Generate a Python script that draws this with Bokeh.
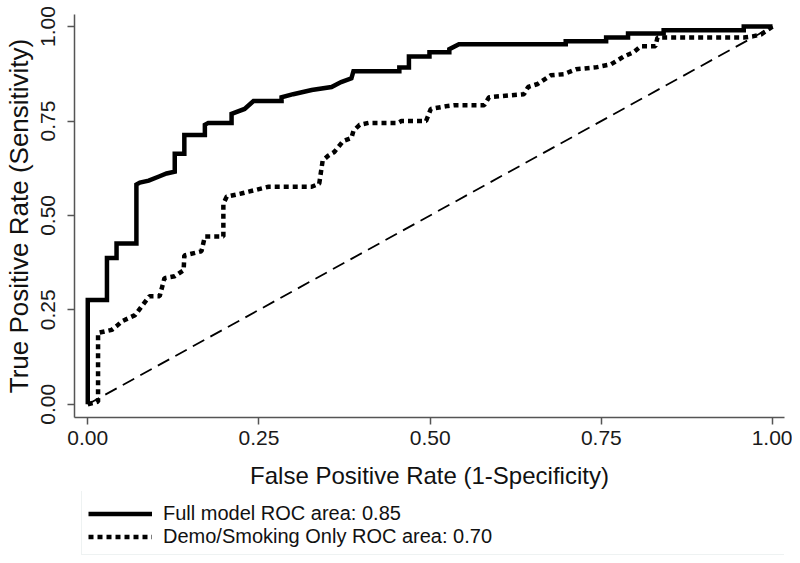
from bokeh.plotting import figure
from bokeh.layouts import column
from bokeh.models import Range1d, FixedTicker, Legend, LegendItem, PrintfTickFormatter
from bokeh.embed import file_html
from bokeh.resources import INLINE

# ---- data ----
full_fpr = [0.0, 0.0, 0.028, 0.028, 0.042, 0.042, 0.071, 0.071, 0.076, 0.089, 0.104, 0.115, 0.127,
            0.127, 0.141, 0.141, 0.171, 0.171, 0.176, 0.210, 0.210, 0.229, 0.242, 0.283, 0.283,
            0.300, 0.327, 0.356, 0.370, 0.385, 0.388, 0.455, 0.455, 0.469, 0.469, 0.499, 0.499,
            0.528, 0.528, 0.542, 0.698, 0.698, 0.757, 0.757, 0.789, 0.789, 0.841, 0.841, 0.958,
            0.958, 1.0]
full_tpr = [0.0, 0.276, 0.276, 0.387, 0.387, 0.426, 0.426, 0.582, 0.587, 0.592, 0.603, 0.611, 0.616,
            0.663, 0.663, 0.713, 0.713, 0.740, 0.745, 0.745, 0.769, 0.782, 0.803, 0.803, 0.813,
            0.821, 0.832, 0.840, 0.853, 0.863, 0.882, 0.882, 0.892, 0.892, 0.921, 0.921, 0.932,
            0.932, 0.940, 0.953, 0.953, 0.961, 0.961, 0.971, 0.971, 0.982, 0.982, 0.990, 0.990,
            1.0, 1.0]

demo_fpr = [0.0, 0.015, 0.015, 0.035, 0.042, 0.050, 0.069, 0.079, 0.090, 0.105, 0.112, 0.127, 0.140,
            0.141, 0.166, 0.171, 0.198, 0.198, 0.203, 0.224, 0.235, 0.264, 0.327, 0.338, 0.343,
            0.351, 0.360, 0.373, 0.385, 0.388, 0.397, 0.410, 0.453, 0.458, 0.494, 0.501, 0.526,
            0.535, 0.579, 0.586, 0.637, 0.643, 0.657, 0.676, 0.695, 0.713, 0.742, 0.764, 0.783,
            0.797, 0.808, 0.829, 0.832, 0.958, 0.971, 0.983, 1.0]
demo_tpr = [0.0, 0.007, 0.189, 0.197, 0.207, 0.220, 0.236, 0.260, 0.286, 0.286, 0.334, 0.339, 0.355,
            0.394, 0.405, 0.444, 0.444, 0.531, 0.550, 0.558, 0.563, 0.576, 0.576, 0.584, 0.645,
            0.658, 0.668, 0.697, 0.705, 0.724, 0.740, 0.745, 0.745, 0.750, 0.750, 0.782, 0.790,
            0.792, 0.792, 0.813, 0.821, 0.840, 0.848, 0.871, 0.874, 0.887, 0.892, 0.900, 0.921,
            0.932, 0.948, 0.948, 0.971, 0.971, 0.974, 0.979, 1.0]

ref_fpr = [0.0, 1.0]
ref_tpr = [0.0, 1.0]

tick_values = [0.0, 0.25, 0.5, 0.75, 1.0]
tick_labels = ["0.00", "0.25", "0.50", "0.75", "1.00"]
legend_labels = ["Full model ROC area: 0.85", "Demo/Smoking Only ROC area: 0.70"]
x_title = "False Positive Rate (1-Specificity)"
y_title = "True Positive Rate (Sensitivity)"

FONT = "Liberation Sans"
AXIS_COLOR = "#555555"
FULL_STYLE = dict(line_width=4.5, color="black", line_join="miter")
DEMO_STYLE = dict(line_width=4.5, line_dash="5 4", color="black")
LEFT, RIGHT = 73, 8

# ---------------- main ROC plot ----------------
p = figure(width=792, height=491, output_backend="svg", toolbar_location=None,
           title=None,
           x_range=Range1d(-0.0194, 1.0175), y_range=Range1d(-0.035, 1.032),
           min_border_left=LEFT, min_border_top=14, min_border_right=RIGHT, min_border_bottom=72)
p.background_fill_color = "white"
p.border_fill_color = "white"
p.outline_line_color = None
p.grid.visible = False

for ax in (p.xaxis[0], p.yaxis[0]):
    ax.ticker = FixedTicker(ticks=tick_values)
    ax.formatter = PrintfTickFormatter(format="%.2f")
    ax.major_label_overrides = {v: l for v, l in zip(tick_values, tick_labels)}
    ax.axis_line_color = AXIS_COLOR
    ax.axis_line_width = 1.5
    ax.major_tick_line_color = AXIS_COLOR
    ax.major_tick_line_width = 1.5
    ax.major_tick_out = 7
    ax.major_tick_in = 0
    ax.minor_tick_line_color = None
    ax.major_label_text_font = FONT
    ax.major_label_text_font_size = "21px"
    ax.major_label_text_color = "#1a1a1a"
    ax.axis_label_text_font = FONT
    ax.axis_label_text_font_style = "normal"
    ax.axis_label_text_color = "#111111"

p.xaxis.axis_label = x_title
p.yaxis.axis_label = y_title
p.xaxis.axis_label_text_font_size = "24px"
p.yaxis.axis_label_text_font_size = "26px"
p.yaxis.major_label_orientation = "vertical"
p.xaxis.major_label_standoff = 6
p.xaxis.axis_label_standoff = 14
p.yaxis.major_label_standoff = 12
p.yaxis.axis_label_standoff = 5

p.line(ref_fpr, ref_tpr, line_width=1.8, line_dash="13 7", color="black")
p.line(demo_fpr, demo_tpr, **DEMO_STYLE)
p.line(full_fpr, full_tpr, **FULL_STYLE)

# ---------------- legend strip below the plot ----------------
leg = figure(width=792, height=64, output_backend="svg", toolbar_location=None, title=None,
             x_range=Range1d(0, 1), y_range=Range1d(5, 6),
             x_axis_location=None, y_axis_location=None,
             min_border_left=LEFT, min_border_right=RIGHT, min_border_top=0, min_border_bottom=0)
leg.outline_line_color = None
leg.grid.visible = False
leg.background_fill_color = "white"
leg.border_fill_color = "white"
# same series, drawn outside this strip's visible range: they only feed the legend keys
k_full = leg.line(full_fpr, full_tpr, **FULL_STYLE)
k_demo = leg.line(demo_fpr, demo_tpr, **DEMO_STYLE)

legend = Legend(items=[LegendItem(label=legend_labels[0], renderers=[k_full]),
                       LegendItem(label=legend_labels[1], renderers=[k_demo])],
                location=(7, 0), orientation="vertical")
legend.margin = 0
legend.padding = 6
legend.spacing = 0
legend.title = " "
legend.title_text_font_size = "1px"
legend.title_standoff = 4
legend.glyph_width = 64
legend.glyph_height = 23
legend.label_height = 23
legend.label_width = 616
legend.label_standoff = 11
legend.label_text_font = FONT
legend.label_text_font_size = "20px"
legend.label_text_color = "#111111"
legend.border_line_color = "#dde6e6"
legend.border_line_width = 1
legend.background_fill_color = "white"
legend.background_fill_alpha = 1.0
leg.add_layout(legend, "center")

layout = column(p, leg, spacing=0)
open("out.html", "w").write(file_html(layout, INLINE))
